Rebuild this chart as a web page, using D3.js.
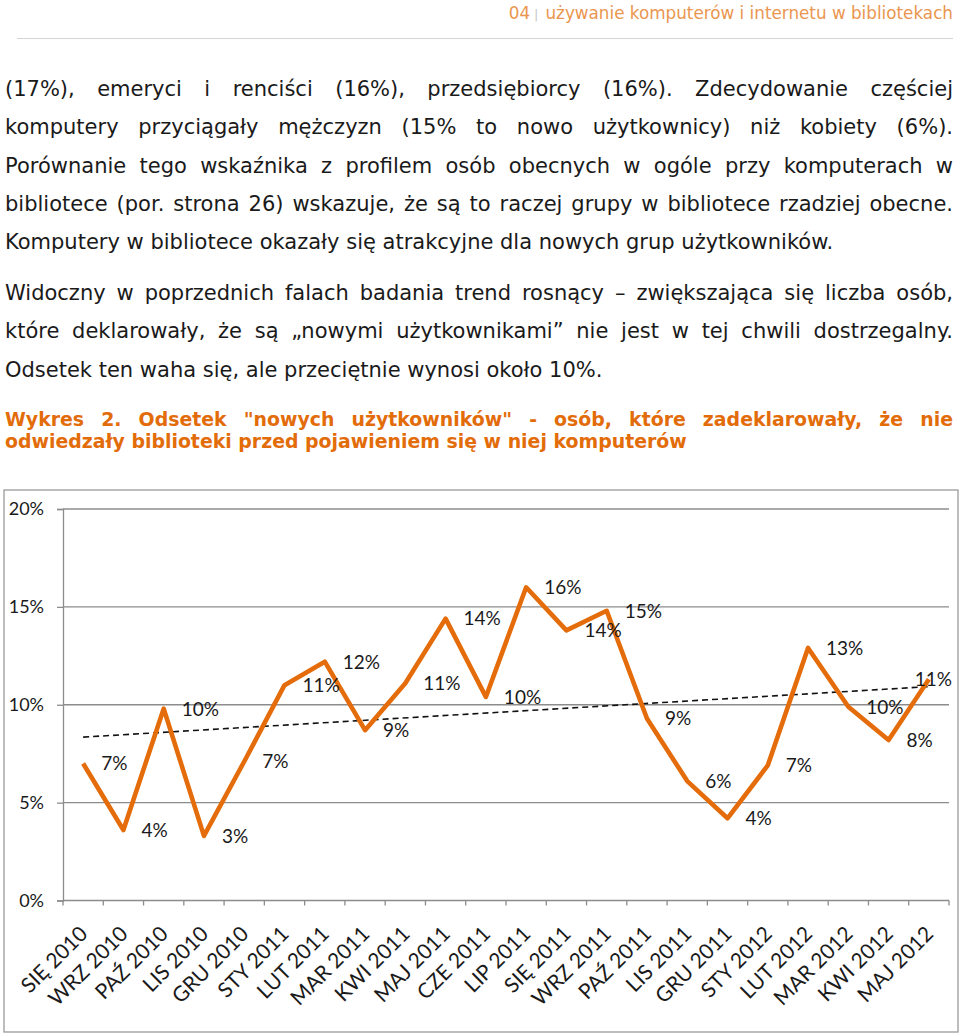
<!DOCTYPE html>
<html>
<head>
<meta charset="utf-8">
<script src="https://cdn.jsdelivr.net/npm/d3@7"></script>
<style>
  body { margin: 0; background: #fff; }
  #page { position: relative; width: 960px; height: 1036px; overflow: hidden; }
  .line { position: absolute; left: 5px; width: 948px; white-space: nowrap; }
  .just { text-align: justify; text-align-last: justify; white-space: normal; }
  .p1 { font-family: "DejaVu Sans", Verdana, sans-serif; font-size: 21px; color: #1a1a1a; }
  .cap { font-family: "DejaVu Sans", Verdana, sans-serif; font-weight: bold; font-size: 18.9px; color: #e36c0a; }
  #head { position: absolute; right: 7px; top: 3px; font-family: "DejaVu Sans", Verdana, sans-serif; font-size: 16.8px; color: #ea9650; white-space: nowrap; }
  #head .bar { color: #c8c8c8; font-size: 13px; margin: 0 7px 0 4px; }
  #rule { position: absolute; left: 17px; top: 38px; width: 936px; height: 0; border-top: 1.5px solid #d4d4d4; }
  svg { position: absolute; left: 0; top: 0; }
</style>
</head>
<body>
<div id="page">
  <div id="head">04<span class="bar">|</span>używanie komputerów i internetu w bibliotekach</div>
  <div id="rule"></div>
  <div id="text"></div>
  <div id="container"></div>
</div>
<script>
// text of the page
const para1 = [
  "(17%), emeryci i renciści (16%), przedsiębiorcy (16%). Zdecydowanie częściej",
  "komputery przyciągały mężczyzn (15% to nowo użytkownicy) niż kobiety (6%).",
  "Porównanie tego wskaźnika z profilem osób obecnych w ogóle przy komputerach w",
  "bibliotece (por. strona 26) wskazuje, że są to raczej grupy w bibliotece rzadziej obecne.",
  "Komputery w bibliotece okazały się atrakcyjne dla nowych grup użytkowników."
];
const para2 = [
  "Widoczny w poprzednich falach badania trend rosnący – zwiększająca się liczba osób,",
  "które deklarowały, że są „nowymi użytkownikami” nie jest w tej chwili dostrzegalny.",
  "Odsetek ten waha się, ale przeciętnie wynosi około 10%."
];
const caption = [
  "Wykres 2. Odsetek \"nowych użytkowników\" - osób, które zadeklarowały, że nie",
  "odwiedzały biblioteki przed pojawieniem się w niej komputerów"
];

// chart data
const months = ["SIĘ 2010", "WRZ 2010", "PAŹ 2010", "LIS 2010", "GRU 2010", "STY 2011",
  "LUT 2011", "MAR 2011", "KWI 2011", "MAJ 2011", "CZE 2011", "LIP 2011", "SIĘ 2011",
  "WRZ 2011", "PAŹ 2011", "LIS 2011", "GRU 2011", "STY 2012", "LUT 2012", "MAR 2012",
  "KWI 2012", "MAJ 2012"];
const share = [7.0, 3.6, 9.8, 3.3, 7.1, 11.0, 12.2, 8.7, 11.1, 14.4, 10.4, 16.0, 13.8,
  14.8, 9.3, 6.1, 4.2, 6.9, 12.9, 9.9, 8.2, 11.3];
const yTicks = [0, 5, 10, 15, 20];

// text lines, placed one by one (top of each line box)
const text = d3.select('#text');
const addLines = (lines, cls, top, step, lastFree) => {
  lines.forEach((t, i) => {
    const isLast = i === lines.length - 1;
    text.append('div')
      .attr('class', 'line ' + cls + (isLast && lastFree ? '' : ' just'))
      .style('top', (top + i * step) + 'px')
      .style('line-height', step + 'px')
      .text(t);
  });
};
addLines(para1, 'p1', 70, 38.3, true);
addLines(para2, 'p1', 274, 38.3, true);
addLines(caption, 'cap', 408, 22, true);

// chart
const W = 960, H = 1036;
const plot = { left: 63, right: 949, top: 509, bottom: 900.5 };
const boxRight = 958;

const svg = d3.select('#container')
  .append('svg')
  .attr('width', W)
  .attr('height', H);

svg.append('rect')
  .attr('x', 4).attr('y', 490)
  .attr('width', boxRight - 4).attr('height', 542)
  .attr('fill', 'none')
  .attr('stroke', '#9a9a9a')
  .attr('stroke-width', 1.3);

const x = d3.scaleBand()
  .domain(months)
  .range([plot.left, plot.right]);

const y = d3.scaleLinear()
  .domain([0, 20])
  .range([plot.bottom, plot.top]);

const axisColor = '#8c8c8c';
const chartFont = 'Lato, "Noto Sans", sans-serif';

// gridlines
svg.append('g')
  .selectAll('line')
  .data(yTicks.filter(d => d > 0))
  .enter().append('line')
  .attr('x1', plot.left).attr('x2', plot.right)
  .attr('y1', d => y(d)).attr('y2', d => y(d))
  .attr('stroke', axisColor)
  .attr('stroke-width', 1.3);

// y axis
const yAxis = svg.append('g')
  .attr('transform', `translate(${plot.left},0)`)
  .call(d3.axisLeft(y).tickValues(yTicks).tickSize(6).tickPadding(13).tickFormat(d => d + '%'));
yAxis.select('.domain').attr('stroke', axisColor).attr('stroke-width', 1.3);
yAxis.selectAll('.tick line').attr('stroke', axisColor).attr('stroke-width', 1.3);
yAxis.selectAll('.tick text')
  .attr('fill', '#1a1a1a')
  .style('font-family', chartFont)
  .style('font-size', '18px');

// x axis line and ticks at category edges
const xAxis = svg.append('g');
xAxis.append('line')
  .attr('x1', plot.left).attr('x2', plot.right)
  .attr('y1', plot.bottom).attr('y2', plot.bottom)
  .attr('stroke', axisColor).attr('stroke-width', 1.3);
xAxis.selectAll('.edge')
  .data(d3.range(months.length + 1))
  .enter().append('line')
  .attr('class', 'edge')
  .attr('x1', i => plot.left + i * x.step())
  .attr('x2', i => plot.left + i * x.step())
  .attr('y1', plot.bottom).attr('y2', plot.bottom + 5)
  .attr('stroke', axisColor).attr('stroke-width', 1.3);
xAxis.selectAll('.lab')
  .data(months)
  .enter().append('text')
  .attr('class', 'lab')
  .attr('transform', d => `translate(${x(d) + x.bandwidth() / 2 - 5},${plot.bottom + 24}) rotate(-45)`)
  .attr('text-anchor', 'end')
  .attr('dy', '0.72em')
  .attr('fill', '#1a1a1a')
  .style('font-family', chartFont)
  .style('font-size', '21px')
  .text(d => d);

const cx = (d, i) => x(months[i]) + x.bandwidth() / 2;

// linear trend (least squares over month index)
const n = share.length;
const mx = (n - 1) / 2;
const my = d3.mean(share);
const slope = d3.sum(share, (v, i) => (i - mx) * (v - my)) / d3.sum(share, (v, i) => (i - mx) * (i - mx));
const trend = [0, n - 1].map(i => ({ i, v: my + slope * (i - mx) }));

svg.append('path')
  .datum(trend)
  .attr('fill', 'none')
  .attr('stroke', '#111')
  .attr('stroke-width', 1.6)
  .attr('stroke-dasharray', '6,4')
  .attr('d', d3.line().x(d => x(months[d.i]) + x.bandwidth() / 2).y(d => y(d.v)));

// series line
svg.append('path')
  .datum(share)
  .attr('fill', 'none')
  .attr('stroke', '#e46c0a')
  .attr('stroke-width', 4.6)
  .attr('stroke-linejoin', 'round')
  .attr('d', d3.line().x(cx).y(d => y(d)));

// data labels, right of each point, kept inside the chart box
svg.append('g')
  .selectAll('text')
  .data(share)
  .enter().append('text')
  .attr('y', d => y(d))
  .attr('dy', '0.36em')
  .attr('fill', '#1a1a1a')
  .style('font-family', chartFont)
  .style('font-size', '19px')
  .text(d => d3.format('.0f')(d) + '%')
  .attr('x', function (d, i) {
    const tw = this.getComputedTextLength();
    return Math.min(cx(d, i) + 18, boxRight - 6 - tw);
  });
</script>
</body>
</html>
